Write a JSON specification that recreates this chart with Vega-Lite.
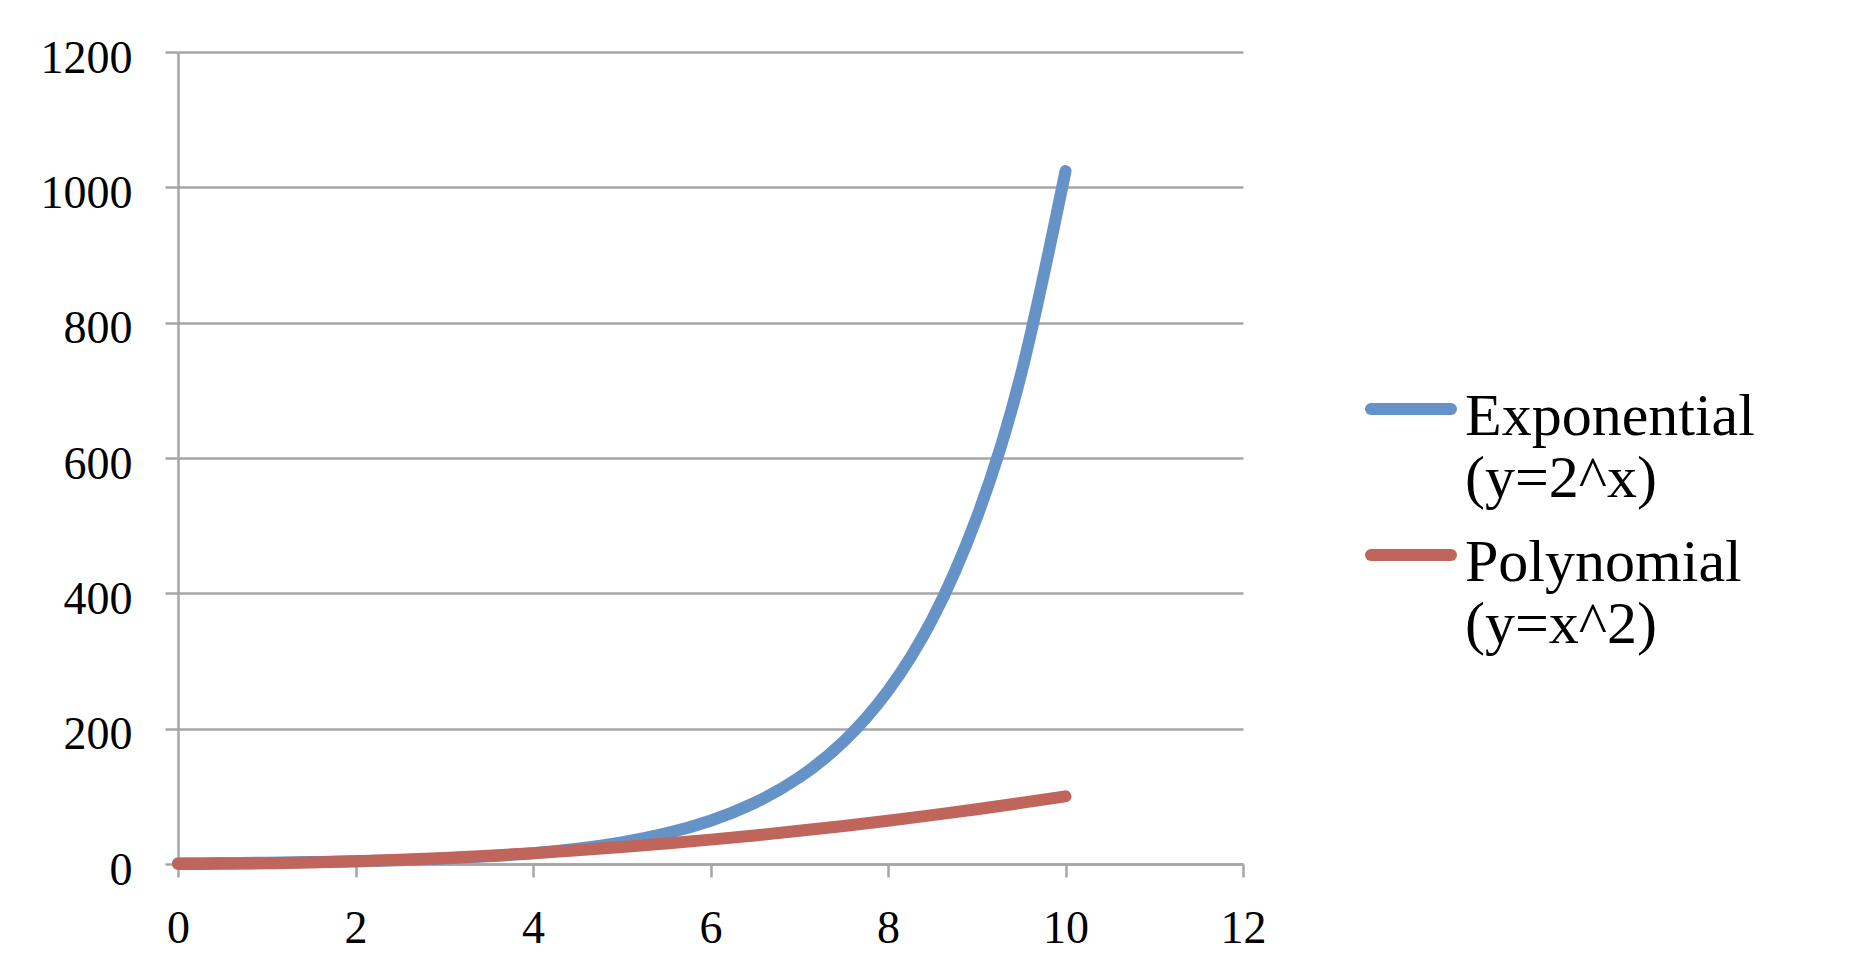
{
  "$schema": "https://vega.github.io/schema/vega-lite/v6.json",
  "width": 1065,
  "height": 812,
  "autosize": {"type": "none"},
  "padding": {"left": 178, "top": 52, "right": 607, "bottom": 114},
  "background": "white",
  "config": {"view": {"stroke": null}, "font": "Liberation Serif"},
  "data": {"values": [
    {"series": "Exponential (y=2^x)", "x": 0, "y": 1},
    {"series": "Exponential (y=2^x)", "x": 0.5, "y": 1.414},
    {"series": "Exponential (y=2^x)", "x": 1, "y": 2},
    {"series": "Exponential (y=2^x)", "x": 1.5, "y": 2.828},
    {"series": "Exponential (y=2^x)", "x": 2, "y": 4},
    {"series": "Exponential (y=2^x)", "x": 2.5, "y": 5.657},
    {"series": "Exponential (y=2^x)", "x": 3, "y": 8},
    {"series": "Exponential (y=2^x)", "x": 3.5, "y": 11.31},
    {"series": "Exponential (y=2^x)", "x": 4, "y": 16},
    {"series": "Exponential (y=2^x)", "x": 4.5, "y": 22.63},
    {"series": "Exponential (y=2^x)", "x": 5, "y": 32},
    {"series": "Exponential (y=2^x)", "x": 5.5, "y": 45.25},
    {"series": "Exponential (y=2^x)", "x": 6, "y": 64},
    {"series": "Exponential (y=2^x)", "x": 6.5, "y": 90.51},
    {"series": "Exponential (y=2^x)", "x": 7, "y": 128},
    {"series": "Exponential (y=2^x)", "x": 7.5, "y": 181.02},
    {"series": "Exponential (y=2^x)", "x": 8, "y": 256},
    {"series": "Exponential (y=2^x)", "x": 8.5, "y": 362.04},
    {"series": "Exponential (y=2^x)", "x": 9, "y": 512},
    {"series": "Exponential (y=2^x)", "x": 9.5, "y": 724.08},
    {"series": "Exponential (y=2^x)", "x": 10, "y": 1024},
    {"series": "Polynomial (y=x^2)", "x": 0, "y": 0},
    {"series": "Polynomial (y=x^2)", "x": 0.5, "y": 0.25},
    {"series": "Polynomial (y=x^2)", "x": 1, "y": 1},
    {"series": "Polynomial (y=x^2)", "x": 1.5, "y": 2.25},
    {"series": "Polynomial (y=x^2)", "x": 2, "y": 4},
    {"series": "Polynomial (y=x^2)", "x": 2.5, "y": 6.25},
    {"series": "Polynomial (y=x^2)", "x": 3, "y": 9},
    {"series": "Polynomial (y=x^2)", "x": 3.5, "y": 12.25},
    {"series": "Polynomial (y=x^2)", "x": 4, "y": 16},
    {"series": "Polynomial (y=x^2)", "x": 4.5, "y": 20.25},
    {"series": "Polynomial (y=x^2)", "x": 5, "y": 25},
    {"series": "Polynomial (y=x^2)", "x": 5.5, "y": 30.25},
    {"series": "Polynomial (y=x^2)", "x": 6, "y": 36},
    {"series": "Polynomial (y=x^2)", "x": 6.5, "y": 42.25},
    {"series": "Polynomial (y=x^2)", "x": 7, "y": 49},
    {"series": "Polynomial (y=x^2)", "x": 7.5, "y": 56.25},
    {"series": "Polynomial (y=x^2)", "x": 8, "y": 64},
    {"series": "Polynomial (y=x^2)", "x": 8.5, "y": 72.25},
    {"series": "Polynomial (y=x^2)", "x": 9, "y": 81},
    {"series": "Polynomial (y=x^2)", "x": 9.5, "y": 90.25},
    {"series": "Polynomial (y=x^2)", "x": 10, "y": 100}
  ]},
  "mark": {"type": "line", "strokeWidth": 12, "strokeCap": "round", "strokeJoin": "round", "interpolate": "natural"},
  "encoding": {
    "x": {
      "field": "x", "type": "quantitative",
      "scale": {"domain": [0, 12], "nice": false, "zero": false},
      "axis": {
        "title": null, "values": [0, 2, 4, 6, 8, 10, 12], "grid": false, "format": "d",
        "domainColor": "#a6a6a6", "domainWidth": 2.5,
        "tickColor": "#a6a6a6", "tickWidth": 2.5, "tickSize": 13,
        "labelFont": "Liberation Serif", "labelFontSize": 46, "labelColor": "black",
        "labelBaseline": "alphabetic", "labelPadding": 65,
        "labelFlush": false, "labelOverlap": false, "labelBound": false
      }
    },
    "y": {
      "field": "y", "type": "quantitative",
      "scale": {"domain": [0, 1200], "nice": false},
      "axis": {
        "title": null, "values": [0, 200, 400, 600, 800, 1000, 1200], "grid": true, "format": "d",
        "gridColor": "#a6a6a6", "gridWidth": 2.5,
        "domainColor": "#a6a6a6", "domainWidth": 2.5,
        "tickColor": "#a6a6a6", "tickWidth": 2.5, "tickSize": 13,
        "labelFont": "Liberation Serif", "labelFontSize": 46, "labelColor": "black",
        "labelBaseline": "alphabetic", "labelOffset": 20, "labelPadding": 33,
        "labelFlush": false, "labelOverlap": false, "labelBound": false
      }
    },
    "color": {
      "field": "series", "type": "nominal",
      "scale": {"domain": ["Exponential (y=2^x)", "Polynomial (y=x^2)"], "range": ["#6592c7", "#c0655b"]},
      "legend": {
        "title": null, "orient": "none", "legendX": 1187, "legendY": 311,
        "symbolType": "stroke", "symbolSize": 6400, "symbolStrokeWidth": 12,
        "labelFont": "Liberation Serif", "labelFontSize": 60, "labelColor": "black",
        "labelLineHeight": 75, "labelExpr": "split(datum.label, ' ')",
        "labelBaseline": "alphabetic", "labelOffset": 8, "labelLimit": 0,
        "rowPadding": 0, "padding": 0,
        "encode": {
          "symbols": {"update": {"strokeCap": {"value": "round"}}},
          "labels": {"update": {"dy": {"value": 26}}}
        }
      }
    }
  }
}
